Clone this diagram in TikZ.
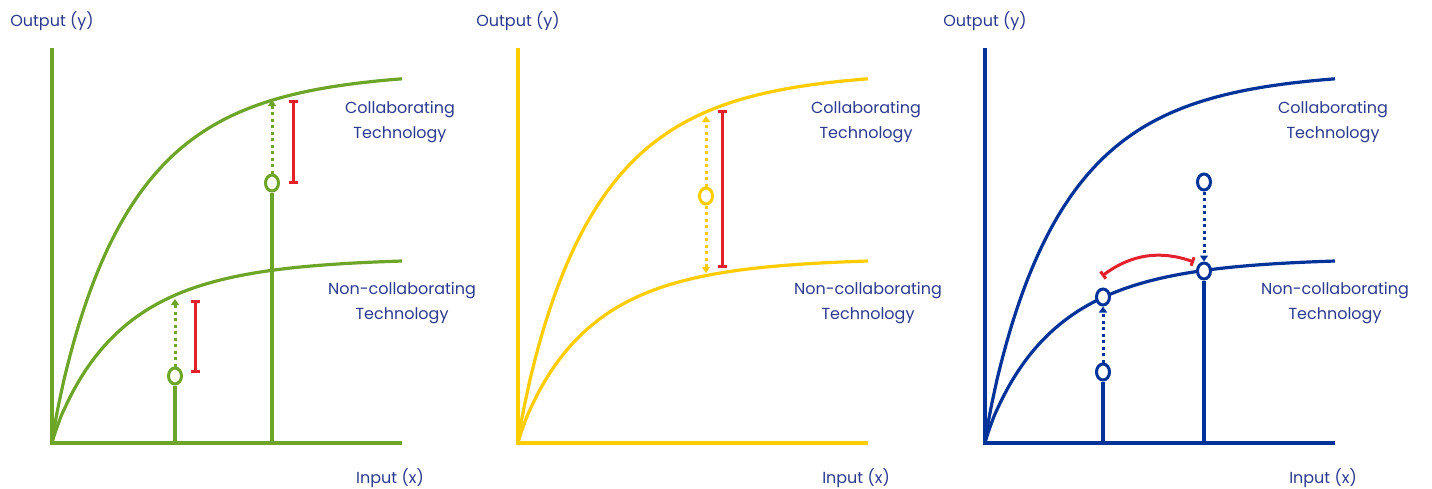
\documentclass[tikz,border=0pt]{standalone}
\usepackage{fontspec}
\setmainfont{Poppins}
\usetikzlibrary{arrows.meta,shapes.geometric}
\definecolor{leafgreen}{HTML}{6CA528}
\definecolor{sunyellow}{HTML}{FFCC00}
\definecolor{deepblue}{HTML}{003399}
\definecolor{gapred}{HTML}{E4202A}
\definecolor{labelnavy}{HTML}{2B3A8F}
\tikzset{
  axis/.style={line width=3.2pt, line join=miter},
  curve/.style={line width=3.2pt},
  pt/.style={ellipse, draw=#1, line width=3pt, fill=white, minimum width=13pt, minimum height=16pt, inner sep=0pt},
  lift/.style={line width=3pt, dash pattern=on 3pt off 3.5pt, -{Triangle[width=8pt,length=6pt]}},
  gap/.style={gapred, line width=3pt, {Bar[width=9pt]}-{Bar[width=9pt]}},
  lbl/.style={text=labelnavy, font=\fontsize{16}{25}\selectfont, align=center}
}
\begin{document}
\begin{tikzpicture}[x=1pt,y=-1pt]
\useasboundingbox (0,0) rectangle (1432,488);
% three panels: axes, curves, labels
\foreach \ox/\col/\n in {52/leafgreen/1, 518/sunyellow/2, 985/deepblue/3} {
  \coordinate (ytop\n) at (\ox,48);
  \coordinate (o\n) at (\ox,443);
  \coordinate (xend\n) at ({\ox+350},443);
  \draw[axis,\col] (ytop\n) -- (o\n) -- (xend\n);
  \draw[curve,\col] (o\n) -- plot[domain=0.5:350, samples=120, smooth]
    ({\ox+\x},{443-372*(1-exp(-(\x/78)^0.9))});
  \draw[curve,\col] (o\n) -- plot[domain=0.5:350, samples=120, smooth]
    ({\ox+\x},{443-185*(1-exp(-(\x/72.7)^0.9))});
  \node[lbl] (out\n) at (\ox,21) {Output (y)};
  \node[lbl] (in\n) at ({\ox+338},478) {Input (x)};
  \node[lbl] (col\n) at ({\ox+348},122) {Collaborating\\Technology};
  \node[lbl] (non\n) at ({\ox+350},303) {Non-collaborating\\Technology};
}
% panel 1
\coordinate (b1) at (175,443);
\coordinate (t1) at (175,299);
\node[pt=leafgreen] (p1) at (175,376) {};
\draw[curve,leafgreen] (b1) -- (p1);
\draw[lift,leafgreen] (p1) -- (t1);
\coordinate (g1a) at (195,300);
\coordinate (g1b) at (195,373);
\draw[gap] (g1a) -- (g1b);
\coordinate (b2) at (272,443);
\coordinate (t2) at (272,100);
\node[pt=leafgreen] (p2) at (272,183) {};
\draw[curve,leafgreen] (b2) -- (p2);
\draw[lift,leafgreen] (p2) -- (t2);
\coordinate (g2a) at (293,100);
\coordinate (g2b) at (293,184);
\draw[gap] (g2a) -- (g2b);
% panel 2
\coordinate (t3) at (706,116);
\coordinate (u3) at (706,273);
\node[pt=sunyellow] (p3) at (706,196) {};
\draw[lift,sunyellow] (p3) -- (t3);
\draw[lift,sunyellow] (p3) -- (u3);
\coordinate (g3a) at (722,110);
\coordinate (g3b) at (722,268);
\draw[gap] (g3a) -- (g3b);
% panel 3
\coordinate (b4) at (1103,443);
\node[pt=deepblue] (p4) at (1103,372) {};
\node[pt=deepblue] (q4) at (1103,297) {};
\draw[curve,deepblue] (b4) -- (p4);
\draw[lift,deepblue] (p4) -- (q4);
\coordinate (b5) at (1204,443);
\node[pt=deepblue] (p5) at (1204,182) {};
\node[pt=deepblue] (q5) at (1204,271) {};
\draw[curve,deepblue] (b5) -- (q5);
\draw[lift,deepblue] (p5) -- (q5);
\coordinate (a6) at (1102,276);
\coordinate (c6) at (1194,262);
\draw[gap] (c6) to[bend right=28] (a6);
\end{tikzpicture}
\end{document}
